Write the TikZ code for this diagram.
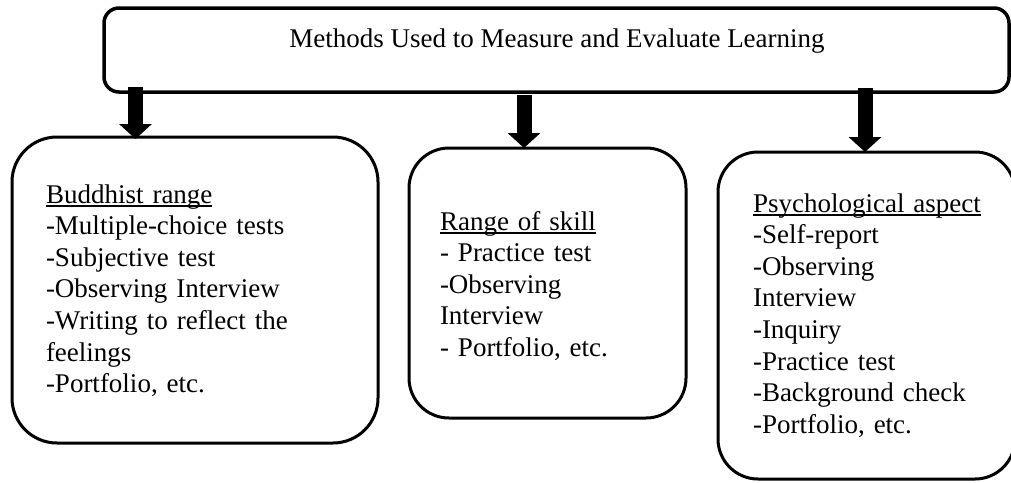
\documentclass[tikz,border=0pt]{standalone}
\usepackage{fontspec}
\setmainfont{Liberation Serif}
\usetikzlibrary{arrows.meta}
% heading with a thin rule just under the baseline
\newcommand\hdr[1]{\setbox0\hbox{#1}\rlap{\rule[-4pt]{\wd0}{1.6pt}}\box0}
\begin{document}
\begin{tikzpicture}[x=1pt,y=-1pt,
  box/.style={draw, line width=3pt, rounded corners=#1, inner sep=0pt,
    outer sep=0pt, anchor=north west},
  body/.style={anchor=base west, inner sep=0pt, outer sep=0pt, align=left,
    font=\fontsize{27}{31.6}\selectfont},
  blockarrow/.style={line width=15pt, -{Triangle[width=32pt,length=15pt]}}]
\useasboundingbox (0,0) rectangle (1011,482);

% boxes
\node[box=15pt, line width=3.5pt, minimum width=905pt, minimum height=84pt] (top) at (104,8) {};
\node[box=45pt, minimum width=366pt, minimum height=306pt] (buddhist) at (12,137) {};
\node[box=40pt, minimum width=277pt, minimum height=270pt] (skill) at (409,148) {};
\node[box=40pt, minimum width=297pt, minimum height=327pt] (psych) at (718,152) {};

% texts
\node[body, anchor=base] (title) at (557,47) {Methods Used to Measure and Evaluate Learning};
\node[body, text width=300pt] (buddhisttext) at (46,203) {\hdr{Buddhist range}\\
-Multiple-choice tests\\
-Subjective test\\
-Observing Interview\\
\makebox[294pt][s]{-Writing to reflect the}\\
feelings\\
-Portfolio, etc.};
\node[body, text width=240pt] (skilltext) at (440,230) {\hdr{Range of skill}\\
- Practice test\\
-Observing\\
Interview\\
- Portfolio, etc.};
\node[body, text width=250pt] (psychtext) at (753,212) {\hdr{Psychological aspect}\\
-Self-report\\
-Observing\\
Interview\\
-Inquiry\\
-Practice test\\
-Background check\\
-Portfolio, etc.};

% arrows
\coordinate (xa) at (135.5,0);
\coordinate (xb) at (524,0);
\coordinate (xc) at (865,0);
\draw[blockarrow] ([yshift=5pt]top.south -| xa) -- ([yshift=-2pt]buddhist.north -| xa);
\draw[blockarrow] ([yshift=-3pt]top.south -| xb) -- (skill.north -| xb);
\draw[blockarrow] ([yshift=4pt]top.south -| xc) -- (psych.north -| xc);
\end{tikzpicture}
\end{document}
